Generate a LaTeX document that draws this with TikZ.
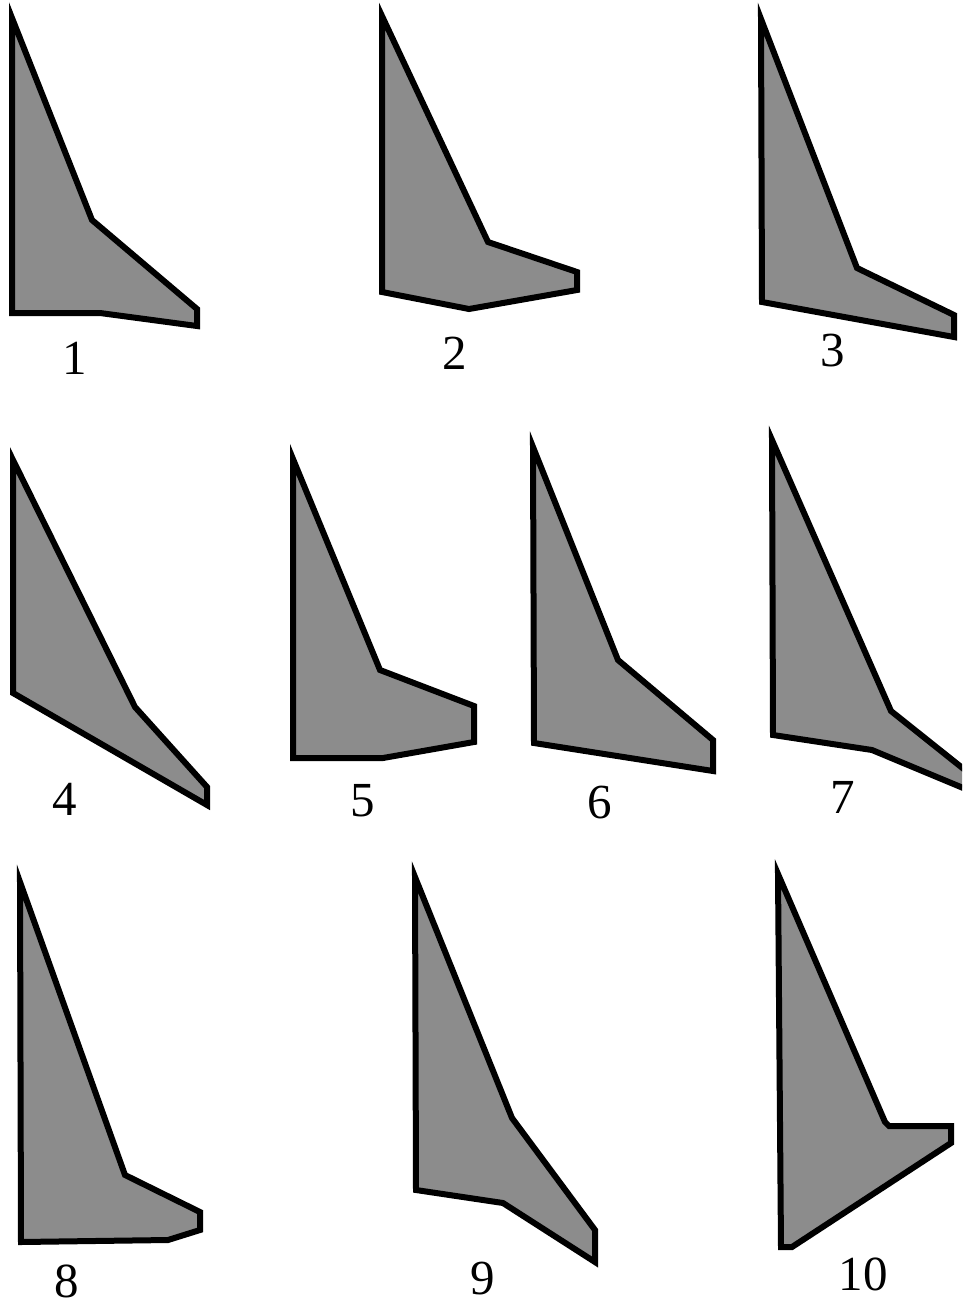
\documentclass[tikz,border=0pt]{standalone}
\usepackage{fontspec}
\setmainfont{Liberation Serif}
\begin{document}
\begin{tikzpicture}[x=1pt,y=-1pt,
  wing/.style={draw=black,fill=black!45,line width=6pt,line join=miter},
  lbl/.style={font=\fontsize{49}{49}\selectfont,inner sep=0pt,anchor=center}]
\useasboundingbox (0,0) rectangle (962,1307);
\clip (0,0) rectangle (962,1307);
% 1
\draw[wing] (12,18) -- (92,220) -- (197,309) -- (197,326) -- (100,313) -- (12,313) -- cycle;
\node[lbl] (l1) at (75,358) {1};
% 2
\draw[wing] (382,16) -- (488,242) -- (577,272) -- (577,290) -- (469,309) -- (382,292) -- cycle;
\node[lbl] (l2) at (455,353) {2};
% 3
\draw[wing] (761,19) -- (857,268) -- (954,315) -- (954,337) -- (762,302) -- cycle;
\node[lbl] (l3) at (833,351) {3};
% 4
\draw[wing] (13,460) -- (135,707) -- (207,787) -- (207,805) -- (13,693) -- cycle;
\node[lbl] (l4) at (65,799) {4};
% 5
\draw[wing] (293,459) -- (380,670) -- (474,706) -- (474,742) -- (383,758) -- (293,758) -- cycle;
\node[lbl] (l5) at (363,801) {5};
% 6
\draw[wing] (533,447) -- (618,660) -- (713,740) -- (713,771) -- (534,743) -- cycle;
\node[lbl] (l6) at (600,803) {6};
% 7
\draw[wing] (772,440) -- (891,711) -- (980,782) -- (980,795) -- (872,750) -- (773,735) -- cycle;
\node[lbl] (l7) at (843,797) {7};
% 8
\draw[wing] (20,882) -- (125,1175) -- (200,1212) -- (200,1230) -- (168,1240) -- (21,1242) -- cycle;
\node[lbl] (l8) at (67,1281) {8};
% 9
\draw[wing] (415,877) -- (512,1118) -- (595,1230) -- (595,1262) -- (503,1203) -- (416,1190) -- cycle;
\node[lbl] (l9) at (483,1279) {9};
% 10
\draw[wing] (778,874) -- (885,1122) -- (889,1126) -- (951,1126) -- (951,1143) -- (792,1247) -- (781,1247) -- cycle;
\node[lbl] (l10) at (863,1274) {10};
\end{tikzpicture}
\end{document}
